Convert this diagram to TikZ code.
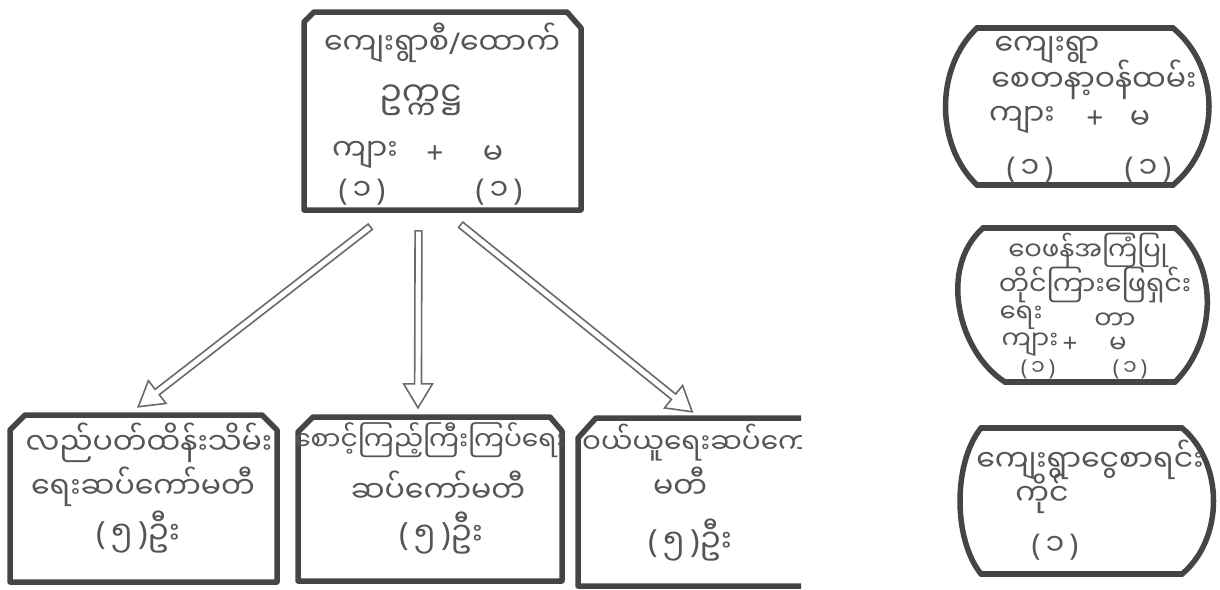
\documentclass[tikz,border=0pt]{standalone}
\usepackage{fontspec}
\newfontfamily\mya[Script=Myanmar]{Noto Sans Myanmar UI}
\newfontfamily\lat{Noto Sans}
\newcommand\pbr[1]{{\lat(}\,#1\,{\lat)}}
\newcommand\plussign{{\lat+}}
\usetikzlibrary{arrows.meta,calc,shapes.arrows}
\definecolor{ink}{HTML}{464444}
\definecolor{txtc}{HTML}{585454}
\begin{document}
\begin{tikzpicture}[x=1pt,y=-1pt,
  frame/.style={draw=ink, line width=5.5pt, line cap=round, line join=round},
  area/.style={inner sep=0pt, outer sep=0pt, draw=none},
  tx/.style={text=txtc, inner sep=0pt, font=\mya\fontsize{30}{34}\selectfont},
  sm/.style={font=\mya\fontsize{26}{30}\selectfont},
  arrowshape/.style={single arrow, draw=ink!80, fill=white, line width=1.6pt,
    inner sep=2.6pt, single arrow head extend=11pt, single arrow tip angle=62,
    single arrow head indent=0pt, anchor=center, outer sep=0pt}]
\useasboundingbox[fill=white] (0,0) rectangle (1220,589);

% ---- box areas
\node[area, minimum width=277pt, minimum height=198pt] (top) at (442.5,111) {};
\node[area, minimum width=267pt, minimum height=167pt] (b1) at (143.5,498.5) {};
\node[area, minimum width=264pt, minimum height=164pt] (b2) at (430,499) {};
\node[area, minimum width=222pt, minimum height=168pt] (b3) at (689,502) {};
\node[area, minimum width=196pt, minimum height=157pt] (r1) at (1075,106.5) {};
\node[area, minimum width=192pt, minimum height=154pt] (r2) at (1079,305) {};
\node[area, minimum width=201pt, minimum height=146pt] (r3) at (1081.5,501) {};

% ---- outlines
\draw[frame] ($(top.north west)+(0,10)$) -- ($(top.north west)+(10,0)$) -- ($(top.north east)+(-14,0)$) -- ($(top.north east)+(0,16)$) -- (top.south east) -- (top.south west) -- cycle;
\draw[frame] ($(b1.north west)+(0,15)$) -- ($(b1.north west)+(15,0)$) -- ($(b1.north east)+(-15,0)$) -- ($(b1.north east)+(0,15)$) -- (b1.south east) -- (b1.south west) -- cycle;
\draw[frame] ($(b2.north west)+(0,15)$) -- ($(b2.north west)+(15,0)$) -- ($(b2.north east)+(-12,0)$) -- ($(b2.north east)+(0,14)$) -- (b2.south east) -- (b2.south west) -- cycle;

\begin{scope}
\clip (560,395) rectangle (801,589);
\draw[frame] ($(b3.north east)+(20,0)$) -- ($(b3.north west)+(18,0)$) -- ($(b3.north west)+(0,20)$) -- (b3.south west) -- ($(b3.south east)+(20,0)$);
\node[tx, anchor=west, font=\mya\fontsize{28}{32}\selectfont] (w1) at (582,443) {ဝယ်ယူရေးဆပ်ကော်};
\end{scope}

\draw[frame] (r1.north west) -- (r1.north east);
\draw[frame] (r1.south west) -- (r1.south east);
\draw[frame] (r1.north east) .. controls ($(r1.north east)+(48,40)$) and ($(r1.south east)+(48,-40)$) .. (r1.south east);
\draw[frame] (r1.north west) .. controls ($(r1.north west)+(-42,40)$) and ($(r1.south west)+(-42,-40)$) .. (r1.south west);

\draw[frame] (r2.north west) -- (r2.north east);
\draw[frame] ($(r2.south west)+(22,0)$) -- (r2.south east);
\draw[frame] (r2.north east) .. controls ($(r2.north east)+(46,40)$) and ($(r2.south east)+(40,-40)$) .. (r2.south east);
\draw[frame] (r2.north west) .. controls ($(r2.north west)+(-45,40)$) and ($(r2.south west)+(-25,-30)$) .. ($(r2.south west)+(22,0)$);

\draw[frame] (r3.north west) -- (r3.north east);
\draw[frame] (r3.south west) -- (r3.south east);
\draw[frame] (r3.north east) .. controls ($(r3.north east)+(42,35)$) and ($(r3.south east)+(42,-35)$) .. (r3.south east);
\draw[frame] (r3.north west) .. controls ($(r3.north west)+(-28,35)$) and ($(r3.south west)+(-28,-35)$) .. (r3.south west);

% ---- arrows (hollow block arrows from the top box to the three sub-committees)
\path let \p1=($(top.south)+(-70,15)$), \p2=($(b1.north)+(-3,-10)$),
  \n1={atan2(\y2-\y1,\x2-\x1)}, \n2={veclen(\x2-\x1,\y2-\y1)} in
  node[arrowshape, minimum height=\n2, rotate=\n1] (a1) at ($(\p1)!0.5!(\p2)$) {};
\path let \p1=($(top.south)+(-24,18)$), \p2=($(b2.north)+(-12,-12)$),
  \n1={atan2(\y2-\y1,\x2-\x1)}, \n2={veclen(\x2-\x1,\y2-\y1)} in
  node[arrowshape, minimum height=\n2, rotate=\n1] (a2) at ($(\p1)!0.5!(\p2)$) {};
\path let \p1=($(top.south)+(16,13)$), \p2=($(b3.north)+(1,-8)$),
  \n1={atan2(\y2-\y1,\x2-\x1)}, \n2={veclen(\x2-\x1,\y2-\y1)} in
  node[arrowshape, minimum height=\n2, rotate=\n1] (a3) at ($(\p1)!0.5!(\p2)$) {};

% ---- top box text
\node[tx] (t1) at (442,43) {ကျေးရွာစီ{\lat/}ထောက်};
\node[tx, font=\mya\fontsize{34}{38}\selectfont] (t2) at (421,100) {ဥက္ကဋ္ဌ};
\node[tx] (t3a) at (365,155) {ကျား};
\node[tx] (t3b) at (435,155) {\plussign};
\node[tx] (t3c) at (493,155) {မ};
\node[tx] (t4a) at (362,192) {\pbr{၁}};
\node[tx] (t4b) at (499,192) {\pbr{၁}};

% ---- right boxes text
\node[tx] (p1) at (1047,50) {ကျေးရွာ};
\node[tx] (p2) at (1094,80) {စေတနာ့ဝန်ထမ်း};
\node[tx] (p3a) at (1022,120) {ကျား};
\node[tx] (p3b) at (1095,120) {\plussign};
\node[tx] (p3c) at (1140,120) {မ};
\node[tx] (p4a) at (1030,170) {\pbr{၁}};
\node[tx] (p4b) at (1148,170) {\pbr{၁}};

\node[tx, sm] (q1) at (1088,250) {ဝေဖန်အကြံပြု};
\node[tx, font=\mya\fontsize{27}{30}\selectfont] (q2) at (1095,285) {တိုင်ကြားဖြေရှင်း};
\node[tx, sm] (q3a) at (1021,318) {ရေး};
\node[tx, sm] (q3b) at (1115,321) {တာ};
\node[tx, sm] (q4a) at (1030,345) {ကျား};
\node[tx, sm] (q4b) at (1070,345) {\plussign};
\node[tx, sm] (q4c) at (1118,345) {မ};
\node[tx, font=\mya\fontsize{22}{26}\selectfont] (q5a) at (1038,369) {\pbr{၁}};
\node[tx, font=\mya\fontsize{22}{26}\selectfont] (q5b) at (1130,369) {\pbr{၁}};

\node[tx] (s1) at (1090,460) {ကျေးရွာငွေစာရင်း};
\node[tx] (s2) at (1042,494) {ကိုင်};
\node[tx] (s3) at (1055,547) {\pbr{၁}};

% ---- bottom boxes text
\node[tx] (u1) at (149,443) {လည်ပတ်ထိန်းသိမ်း};
\node[tx] (u2) at (143,487) {ရေးဆပ်ကော်မတီ};
\node[tx, font=\mya\fontsize{32}{36}\selectfont] (u3) at (138,532) {\pbr{၅}ဦး};

\node[tx, font=\mya\fontsize{26.5}{30}\selectfont] (v1) at (430,440) {စောင့်ကြည့်ကြီးကြပ်ရေး};
\node[tx] (v2) at (438,487) {ဆပ်ကော်မတီ};
\node[tx, font=\mya\fontsize{32}{36}\selectfont] (v3) at (441,533) {\pbr{၅}ဦး};

\node[tx] (w2) at (680,483) {မတီ};
\node[tx, font=\mya\fontsize{32}{36}\selectfont] (w3) at (690,540) {\pbr{၅}ဦး};
\end{tikzpicture}
\end{document}
